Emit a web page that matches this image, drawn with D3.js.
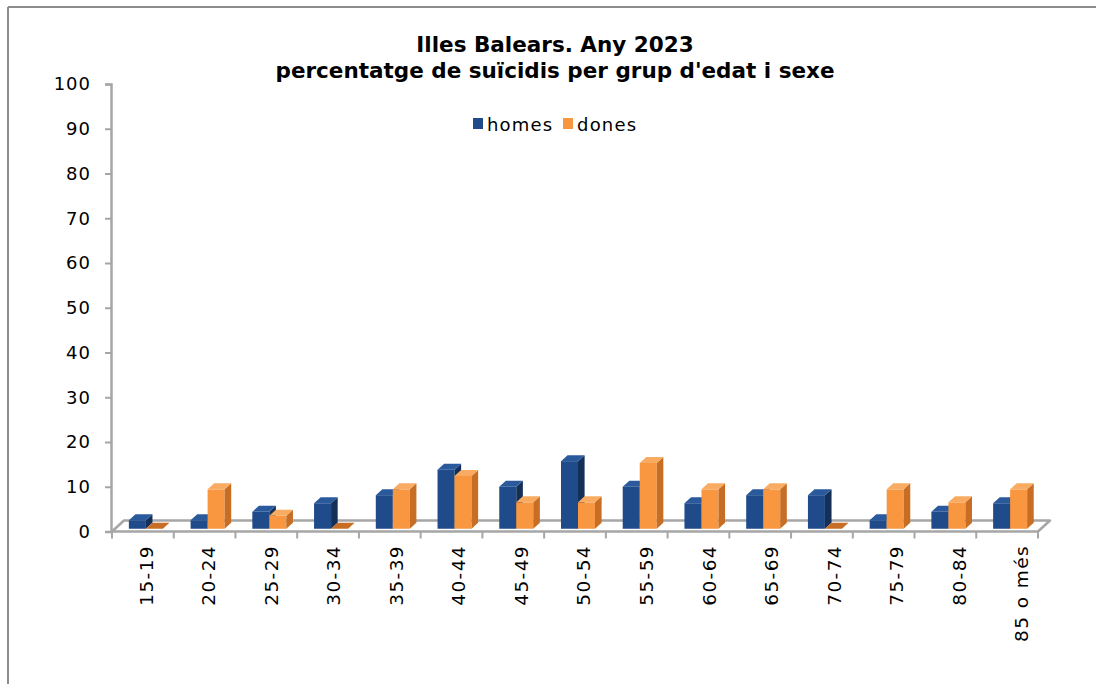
<!DOCTYPE html>
<html>
<head>
<meta charset="utf-8">
<script src="https://cdn.jsdelivr.net/npm/d3@7"></script>
<style>
  html, body { margin: 0; padding: 0; background: #fff; }
  svg { display: block; }
  text { font-family: "DejaVu Sans", Verdana, sans-serif; fill: #000; }
</style>
</head>
<body>
<svg id="chart" width="1096" height="684"></svg>
<script>
const titleLines = ["Illes Balears. Any 2023", "percentatge de suïcidis per grup d'edat i sexe"];
const categories = ["15-19","20-24","25-29","30-34","35-39","40-44","45-49","50-54","55-59","60-64","65-69","70-74","75-79","80-84","85 o més"];
const seriesNames = ["homes", "dones"];
const homes = [1.9, 1.9, 3.8, 5.7, 7.5, 13.2, 9.4, 15.1, 9.4, 5.7, 7.5, 7.5, 1.9, 3.8, 5.7];
const dones = [0, 8.8, 2.9, 0, 8.8, 11.8, 5.9, 5.9, 14.7, 8.8, 8.8, 0, 8.8, 5.9, 8.8];
const yTicks = [0, 10, 20, 30, 40, 50, 60, 70, 80, 90, 100];

const colors = {
  homes: { front: "#1F4B8A", side: "#142F58", top: "#2A5A9C" },
  dones: { front: "#F8973F", side: "#C86E24", top: "#F9AB62" }
};

const svg = d3.select("#chart");

// outer frame (top and left edges visible)
svg.append("line").attr("x1", 8).attr("y1", 7).attr("x2", 1100).attr("y2", 7)
  .attr("stroke", "#8c8c8c").attr("stroke-width", 2);
svg.append("line").attr("x1", 8).attr("y1", 7).attr("x2", 8).attr("y2", 690)
  .attr("stroke", "#8c8c8c").attr("stroke-width", 2);

// title
const title = svg.append("text").attr("text-anchor", "middle")
  .style("font-weight", "bold").style("font-size", "21.5px");
titleLines.forEach((t, i) => {
  title.append("tspan").attr("x", 555).attr("y", 52 + i * 26).text(t);
});

// scales
const x = d3.scaleBand().domain(categories).range([112, 1038]);
const xLab = d3.scaleBand().domain(categories).range([112, 1050]);
const y = d3.scaleLinear().domain([0, 100]).range([531.5, 84]);
const sub = d3.scaleBand().domain(seriesNames).range([0, x.bandwidth()]).paddingOuter(0.815);

const DX = 12, DY = -11;      // floor depth vector
const F = 0.25, B = 0.8;      // bar front/back depth fractions

// floor
const x0 = x.range()[0], x1 = x.range()[1], y0 = y(0);
svg.append("path")
  .attr("d", `M${x0},${y0}L${x1},${y0}L${x1 + DX},${y0 + DY}L${x0 + DX},${y0 + DY}Z`)
  .attr("fill", "#fff").attr("stroke", "#a6a6a6").attr("stroke-width", 2.5)
  .attr("stroke-linejoin", "round");

// x tick marks at category boundaries
const bounds = categories.map(c => x(c)).concat([x1]);
svg.append("g").selectAll("line").data(bounds).join("line")
  .attr("x1", d => d).attr("x2", d => d)
  .attr("y1", y0).attr("y2", y0 + 7)
  .attr("stroke", "#a6a6a6").attr("stroke-width", 2);

// y axis
const yAxis = svg.append("g").attr("transform", `translate(${x0 - 1},0)`)
  .call(d3.axisLeft(y).tickValues(yTicks).tickSize(6).tickPadding(14));
yAxis.select(".domain").attr("stroke", "#a6a6a6").attr("stroke-width", 2.5);
yAxis.selectAll(".tick line").attr("stroke", "#a6a6a6").attr("stroke-width", 2);
yAxis.selectAll(".tick text").style("font-size", "18px").style("letter-spacing", "1px")
  .style("font-family", "'DejaVu Sans', sans-serif").attr("fill", "#000");

// bars
const data = [];
categories.forEach((c, i) => {
  data.push({ cat: c, s: "homes", v: homes[i] });
  data.push({ cat: c, s: "dones", v: dones[i] });
});

const bw = sub.bandwidth();
const ddx = (B - F) * DX, ddy = (B - F) * DY;
const barsG = svg.append("g");
data.forEach(d => {
  const bx = x(d.cat) + sub(d.s) + F * DX;
  const yb = y(0) + F * DY;
  const yt = y(d.v) + F * DY;
  const col = colors[d.s];
  const g = barsG.append("g");
  if (d.v > 0) {
    g.append("rect").attr("x", bx).attr("y", yt).attr("width", bw).attr("height", yb - yt)
      .attr("fill", col.front);
    g.append("path")
      .attr("d", `M${bx + bw},${yt}L${bx + bw + ddx},${yt + ddy}L${bx + bw + ddx},${yb + ddy}L${bx + bw},${yb}Z`)
      .attr("fill", col.side);
  }
  g.append("path")
    .attr("d", `M${bx},${yt}L${bx + bw},${yt}L${bx + bw + ddx},${yt + ddy}L${bx + ddx},${yt + ddy}Z`)
    .attr("fill", d.v > 0 ? col.top : col.side);
});

// x labels (rotated)
svg.append("g").selectAll("text").data(categories).join("text")
  .attr("transform", d => `translate(${xLab(d) + xLab.bandwidth() / 2 + 3},545) rotate(-90)`)
  .attr("text-anchor", "end").attr("dy", "0.35em")
  .style("font-size", "18.5px").style("letter-spacing", "1.4px")
  .text(d => d);

// legend
const legend = svg.append("g");
const legendItems = [{ s: "homes", x: 473 }, { s: "dones", x: 563 }];
legendItems.forEach(it => {
  legend.append("rect").attr("x", it.x).attr("y", 118).attr("width", 10).attr("height", 11)
    .attr("fill", colors[it.s].front);
  legend.append("text").attr("x", it.x + 14).attr("y", 131)
    .style("font-size", "18px").style("letter-spacing", "1.2px").text(it.s);
});
</script>
</body>
</html>
